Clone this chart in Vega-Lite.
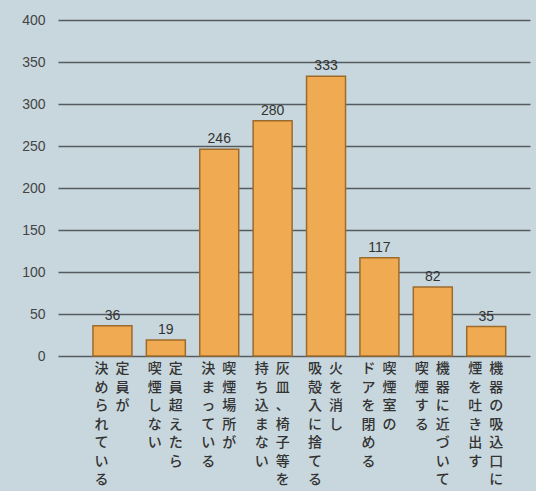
{
  "$schema": "https://vega.github.io/schema/vega-lite/v6.json",
  "width": 472,
  "height": 336,
  "autosize": "none",
  "padding": {"left": 58, "top": 20, "right": 6, "bottom": 135},
  "background": "#c8d7dd",
  "config": {"view": {"stroke": null}},
  "data": {
    "values": [
      {"label": "定員が決められている", "value": 36, "c1": ["定","員","が"], "c2": ["決","め","ら","れ","て","い","る"]},
      {"label": "定員超えたら喫煙しない", "value": 19, "c1": ["定","員","超","え","た","ら"], "c2": ["喫","煙","し","な","い"]},
      {"label": "喫煙場所が決まっている", "value": 246, "c1": ["喫","煙","場","所","が"], "c2": ["決","ま","っ","て","い","る"]},
      {"label": "灰皿、椅子等を持ち込まない", "value": 280, "c1": ["灰","皿","、","椅","子","等","を"], "c2": ["持","ち","込","ま","な","い"]},
      {"label": "火を消し吸殻入に捨てる", "value": 333, "c1": ["火","を","消","し"], "c2": ["吸","殻","入","に","捨","て","る"]},
      {"label": "喫煙室のドアを閉める", "value": 117, "c1": ["喫","煙","室","の"], "c2": ["ド","ア","を","閉","め","る"]},
      {"label": "機器に近づいて喫煙する", "value": 82, "c1": ["機","器","に","近","づ","い","て"], "c2": ["喫","煙","す","る"]},
      {"label": "機器の吸込口に煙を吐き出す", "value": 35, "c1": ["機","器","の","吸","込","口","に"], "c2": ["煙","を","吐","き","出","す"]}
    ]
  },
  "encoding": {
    "x": {
      "field": "label",
      "type": "nominal",
      "sort": null,
      "axis": null,
      "scale": {"paddingInner": 0.27, "paddingOuter": 0.555, "align": 0.59}
    }
  },
  "layer": [
    {
      "mark": {"type": "bar", "fill": "#f0ab52", "stroke": "#9c6b2c", "strokeWidth": 1.5},
      "encoding": {
        "y": {
          "field": "value",
          "type": "quantitative",
          "scale": {"domain": [0, 400]},
          "axis": {
            "values": [0, 50, 100, 150, 200, 250, 300, 350, 400],
            "title": null,
            "ticks": false,
            "domain": false,
            "labelPadding": 13,
            "gridColor": "#555b5f",
            "gridWidth": 1.6,
            "labelFontSize": 14,
            "labelColor": "#444444",
            "labelFont": "Liberation Sans"
          }
        }
      }
    },
    {
      "mark": {"type": "text", "baseline": "bottom", "dy": -3, "fontSize": 14, "font": "Liberation Sans", "color": "#333333"},
      "encoding": {
        "y": {"field": "value", "type": "quantitative"},
        "text": {"field": "value", "type": "quantitative"}
      }
    },
    {
      "mark": {"type": "text", "baseline": "top", "align": "center", "dx": 10, "dy": 6, "fontSize": 14, "lineHeight": 18.5, "font": "Noto Sans CJK JP", "fontWeight": 500, "color": "#333333"},
      "encoding": {
        "y": {"datum": 0, "type": "quantitative"},
        "text": {"field": "c1"}
      }
    },
    {
      "mark": {"type": "text", "baseline": "top", "align": "center", "dx": -11, "dy": 6, "fontSize": 14, "lineHeight": 18.5, "font": "Noto Sans CJK JP", "fontWeight": 500, "color": "#333333"},
      "encoding": {
        "y": {"datum": 0, "type": "quantitative"},
        "text": {"field": "c2"}
      }
    }
  ]
}
